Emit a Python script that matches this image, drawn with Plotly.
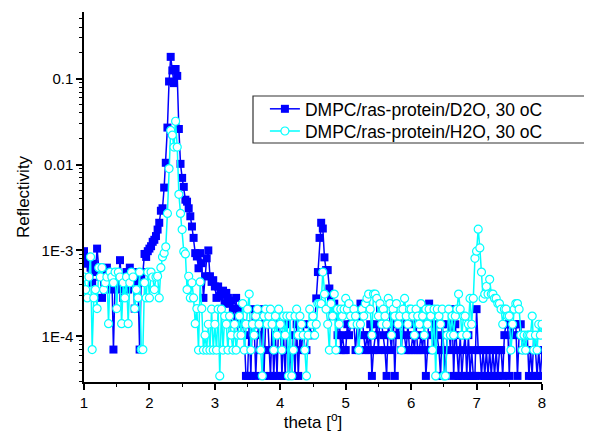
import plotly.graph_objects as go

# ---- data ----
theta = [
    1.0, 1.025, 1.05, 1.075, 1.1, 1.125, 1.15, 1.175, 1.2, 1.225, 1.25, 1.275, 1.3, 1.325, 1.35, 1.375, 1.4, 1.425, 1.45, 1.475,
    1.5, 1.525, 1.55, 1.575, 1.6, 1.625, 1.65, 1.675, 1.7, 1.725, 1.75, 1.775, 1.8, 1.825, 1.85, 1.875, 1.9, 1.925, 1.95, 1.975,
    2.0, 2.025, 2.05, 2.075, 2.1, 2.125, 2.15, 2.175, 2.2, 2.225, 2.25, 2.275, 2.3, 2.325, 2.35, 2.375, 2.4, 2.425, 2.45, 2.475,
    2.5, 2.525, 2.55, 2.575, 2.6, 2.625, 2.65, 2.675, 2.7, 2.725, 2.75, 2.775, 2.8, 2.825, 2.85, 2.875, 2.9, 2.925, 2.95, 2.975,
    3.0, 3.025, 3.05, 3.075, 3.1, 3.125, 3.15, 3.175, 3.2, 3.225, 3.25, 3.275, 3.3, 3.325, 3.35, 3.375, 3.4, 3.425, 3.45, 3.475,
    3.5, 3.525, 3.55, 3.575, 3.6, 3.625, 3.65, 3.675, 3.7, 3.725, 3.75, 3.775, 3.8, 3.825, 3.85, 3.875, 3.9, 3.925, 3.95, 3.975,
    4.0, 4.025, 4.05, 4.075, 4.1, 4.125, 4.15, 4.175, 4.2, 4.225, 4.25, 4.275, 4.3, 4.325, 4.35, 4.375, 4.4, 4.425, 4.45, 4.475,
    4.5, 4.525, 4.55, 4.575, 4.6, 4.625, 4.65, 4.675, 4.7, 4.725, 4.75, 4.775, 4.8, 4.825, 4.85, 4.875, 4.9, 4.925, 4.95, 4.975,
    5.0, 5.025, 5.05, 5.075, 5.1, 5.125, 5.15, 5.175, 5.2, 5.225, 5.25, 5.275, 5.3, 5.325, 5.35, 5.375, 5.4, 5.425, 5.45, 5.475,
    5.5, 5.525, 5.55, 5.575, 5.6, 5.625, 5.65, 5.675, 5.7, 5.725, 5.75, 5.775, 5.8, 5.825, 5.85, 5.875, 5.9, 5.925, 5.95, 5.975,
    6.0, 6.025, 6.05, 6.075, 6.1, 6.125, 6.15, 6.175, 6.2, 6.225, 6.25, 6.275, 6.3, 6.325, 6.35, 6.375, 6.4, 6.425, 6.45, 6.475,
    6.5, 6.525, 6.55, 6.575, 6.6, 6.625, 6.65, 6.675, 6.7, 6.725, 6.75, 6.775, 6.8, 6.825, 6.85, 6.875, 6.9, 6.925, 6.95, 6.975,
    7.0, 7.025, 7.05, 7.075, 7.1, 7.125, 7.15, 7.175, 7.2, 7.225, 7.25, 7.275, 7.3, 7.325, 7.35, 7.375, 7.4, 7.425, 7.45, 7.475,
    7.5, 7.525, 7.55, 7.575, 7.6, 7.625, 7.65, 7.675, 7.7, 7.725, 7.75, 7.775, 7.8, 7.825, 7.85, 7.875, 7.9, 7.925, 7.95, 7.975,
    8.0,
]

refl_d2o = [
    9.8e-4, 7e-4, 8.4e-4, 4.9e-4, 6.3e-4, 4.2e-4, 7e-4, 5.6e-4, 1.05e-3, 6.3e-4, 4.9e-4, 2.8e-4, 5.6e-4, 4.2e-4, 6.3e-4, 4.9e-4, 3.5e-4, 5.6e-4, 7e-5, 4.2e-4,
    4.9e-4, 3.5e-4, 7.7e-4, 4.2e-4, 2.8e-4, 4.9e-4, 5.6e-4, 3.5e-4, 6.3e-4, 4.2e-4, 4.9e-4, 2.1e-4, 5.6e-4, 4.2e-4, 7e-5, 4.9e-4, 5.6e-4, 9.1e-4, 8.4e-4, 9.8e-4,
    1.05e-3, 1.12e-3, 1.26e-3, 1.33e-3, 1.47e-3, 1.75e-3, 2.1e-3, 2.9e-3, 3.1e-3, 5.4e-3, 0.0105, 0.027, 0.093, 0.18, 0.125, 0.089, 0.13, 0.108, 0.026, 0.0102,
    7e-3, 5.5e-3, 3.9e-3, 3.7e-3, 3.1e-3, 2.5e-3, 1.9e-3, 1.4e-3, 9.3e-4, 8.5e-4, 6.2e-4, 9.3e-4, 7.1e-4, 2.8e-4, 5e-4, 8.1e-4, 1.0e-3, 5e-4, 4.3e-4, 4.5e-4,
    3.8e-4, 2.8e-4, 3.8e-4, 2.9e-4, 3.1e-4, 3.4e-4, 2.4e-4, 3.2e-4, 2.8e-4, 2.4e-4, 2.6e-4, 2.1e-4, 1.4e-4, 2.8e-4, 1.03e-4, 2.1e-4, 1.4e-4, 1.4e-4, 1.03e-4, 3.45e-5,
    3.45e-5, 1.38e-4, 3.45e-5, 2.07e-4, 1.38e-4, 3.45e-5, 1.03e-4, 1.38e-4, 6.9e-5, 2.07e-4, 3.45e-5, 1.38e-4, 2.07e-4, 6.9e-5, 3.45e-5, 1.38e-4, 3.45e-5, 1.03e-4, 3.45e-5, 1.38e-4,
    1.38e-4, 3.45e-5, 1.03e-4, 3.45e-5, 1.38e-4, 3.45e-5, 6.9e-5, 3.45e-5, 1.03e-4, 3.45e-5, 1.38e-4, 3.45e-5, 1.03e-4, 6.9e-5, 1.38e-4, 6.9e-5, 6.9e-5, 1.03e-4, 1.38e-4, 1.03e-4,
    1.03e-4, 1.38e-4, 2.76e-4, 5.6e-4, 1.4e-3, 2.1e-3, 1.8e-3, 8.3e-4, 5.9e-4, 5.9e-4, 3.6e-4, 2.76e-4, 1.72e-4, 2.4e-4, 1.72e-4, 1.03e-4, 1.72e-4, 6.9e-5, 1.03e-4, 6.9e-5,
    6.9e-5, 1.38e-4, 1.03e-4, 1.38e-4, 1.72e-4, 1.38e-4, 6.9e-5, 1.38e-4, 6.9e-5, 2.4e-4, 1.72e-4, 1.03e-4, 6.9e-5, 1.03e-4, 6.9e-5, 1.38e-4, 3.45e-5, 6.9e-5, 1.03e-4, 1.38e-4,
    6.9e-5, 2.07e-4, 1.38e-4, 1.03e-4, 6.9e-5, 3.45e-5, 1.38e-4, 1.03e-4, 6.9e-5, 1.72e-4, 3.45e-5, 1.38e-4, 1.03e-4, 1.72e-4, 6.9e-5, 1.38e-4, 1.03e-4, 6.9e-5, 1.38e-4, 6.9e-5,
    6.9e-5, 1.03e-4, 6.9e-5, 1.38e-4, 6.9e-5, 6.9e-5, 1.03e-4, 6.9e-5, 1.38e-4, 3.45e-5, 6.9e-5, 2.4e-4, 1.72e-4, 1.03e-4, 6.9e-5, 1.38e-4, 1.03e-4, 6.9e-5, 3.45e-5, 1.38e-4,
    6.9e-5, 3.45e-5, 1.03e-4, 1.38e-4, 6.9e-5, 2.07e-4, 3.45e-5, 1.38e-4, 6.9e-5, 3.45e-5, 1.03e-4, 3.45e-5, 6.9e-5, 1.03e-4, 3.45e-5, 1.03e-4, 3.45e-5, 6.9e-5, 3.45e-5, 3.45e-5,
    2.07e-4, 6.9e-5, 6.9e-5, 3.45e-5, 6.9e-5, 3.45e-5, 6.9e-5, 3.45e-5, 6.9e-5, 3.45e-5, 6.9e-5, 3.45e-5, 6.9e-5, 3.45e-5, 6.9e-5, 6.9e-5, 3.45e-5, 1.03e-4, 1.38e-4, 1.38e-4,
    3.45e-5, 1.38e-4, 1.03e-4, 1.38e-4, 1.38e-4, 3.45e-5, 1.03e-4, 1.38e-4, 6.9e-5, 1.03e-4, 6.9e-5, 1.03e-4, 3.45e-5, 6.9e-5, 3.45e-5, 1.03e-4, 6.9e-5, 3.45e-5, 6.9e-5, 3.45e-5,
    6.9e-5,
]

refl_h2o = [
    4.9e-4, 3.5e-4, 2.8e-4, 4.9e-4, 8.4e-4, 7e-5, 2.8e-4, 3.5e-4, 2.1e-4, 6.3e-4, 4.9e-4, 6.3e-4, 3.5e-4, 4.2e-4, 4.9e-4, 1.4e-4, 5.6e-4, 4.9e-4, 4.2e-4, 5.6e-4,
    2.1e-4, 5.6e-4, 4.9e-4, 1.4e-4, 4.2e-4, 2.8e-4, 4.9e-4, 1.4e-4, 4.2e-4, 5.6e-4, 4.9e-4, 2.1e-4, 3.5e-4, 2.8e-4, 5.6e-4, 7e-5, 7e-5, 4.2e-4, 2.8e-4, 5.6e-4,
    2.8e-4, 5.6e-4, 4.9e-4, 3.5e-4, 4.9e-4, 5e-4, 2.8e-4, 6.3e-4, 8.4e-4, 9.3e-4, 1.1e-3, 2.7e-3, 9e-3, 0.025, 0.022, 0.016, 0.032, 0.016, 4.5e-3, 2.7e-3,
    1.75e-3, 9.7e-4, 9.1e-4, 3.5e-4, 5e-4, 2.8e-4, 4.2e-4, 2.8e-4, 1.4e-4, 2.1e-4, 6.9e-5, 4.3e-4, 2.1e-4, 6.9e-5, 1.03e-4, 6.9e-5, 1.38e-4, 6.9e-5, 2.07e-4, 6.9e-5,
    1.38e-4, 6.9e-5, 2.07e-4, 3.45e-5, 2.07e-4, 6.9e-5, 1.72e-4, 1.38e-4, 6.9e-5, 1.72e-4, 1.03e-4, 6.9e-5, 1.38e-4, 6.9e-5, 1.03e-4, 1.72e-4, 1.03e-4, 2.4e-4, 6.9e-5, 1.38e-4,
    2.07e-4, 3.1e-4, 6.9e-5, 1.38e-4, 1.03e-4, 1.72e-4, 2.07e-4, 1.38e-4, 6.9e-5, 3.45e-5, 1.72e-4, 2.07e-4, 1.38e-4, 1.72e-4, 2.07e-4, 1.38e-4, 6.9e-5, 1.72e-4, 1.03e-4, 2.07e-4,
    1.38e-4, 6.9e-5, 1.72e-4, 1.03e-4, 1.72e-4, 3.45e-5, 1.72e-4, 3.45e-5, 6.9e-5, 1.72e-4, 2.07e-4, 1.03e-4, 1.72e-4, 1.38e-4, 1.03e-4, 6.9e-5, 3.45e-5, 1.03e-4, 2.07e-4, 1.38e-4,
    1.72e-4, 1.03e-4, 1.38e-4, 2.4e-4, 2.4e-4, 2.4e-4, 5.6e-4, 3.1e-4, 2.07e-4, 1.38e-4, 6.9e-5, 2.4e-4, 1.72e-4, 3.1e-4, 6.9e-5, 2.07e-4, 1.38e-4, 2.07e-4, 1.72e-4, 2.07e-4,
    2.76e-4, 2.07e-4, 2.4e-4, 1.72e-4, 1.38e-4, 2.07e-4, 1.72e-4, 1.38e-4, 6.9e-5, 1.38e-4, 2.07e-4, 1.72e-4, 2.4e-4, 2.76e-4, 3.1e-4, 2.07e-4, 1.03e-4, 3.1e-4, 3.1e-4, 2.76e-4,
    1.72e-4, 2.4e-4, 1.38e-4, 2.07e-4, 1.72e-4, 1.38e-4, 2.76e-4, 2.4e-4, 1.03e-4, 2.07e-4, 1.72e-4, 2.4e-4, 1.38e-4, 1.72e-4, 6.9e-5, 2.07e-4, 2.76e-4, 1.72e-4, 1.38e-4, 2.07e-4,
    2.07e-4, 1.72e-4, 1.03e-4, 2.07e-4, 1.72e-4, 1.38e-4, 2.4e-4, 1.72e-4, 1.03e-4, 2.07e-4, 1.38e-4, 2.07e-4, 1.72e-4, 6.9e-5, 2.07e-4, 3.45e-5, 2.07e-4, 1.72e-4, 1.38e-4, 2.07e-4,
    3.45e-5, 3.45e-5, 1.03e-4, 2.07e-4, 1.03e-4, 1.72e-4, 1.03e-4, 1.72e-4, 2.07e-4, 3.1e-4, 2.07e-4, 1.03e-4, 1.72e-4, 1.72e-4, 1.03e-4, 1.38e-4, 2.76e-4, 1.38e-4, 2.76e-4, 8.1e-4,
    9.8e-4, 1.77e-3, 1.07e-3, 5.6e-4, 2.76e-4, 3.1e-4, 3.8e-4, 3.1e-4, 4.6e-4, 3.1e-4, 3.1e-4, 2.76e-4, 2.76e-4, 2.4e-4, 2.4e-4, 2.07e-4, 1.38e-4, 2.07e-4, 2.07e-4, 1.72e-4,
    1.72e-4, 6.9e-5, 1.38e-4, 2.07e-4, 2.4e-4, 2.4e-4, 2.07e-4, 1.03e-4, 6.9e-5, 1.03e-4, 6.9e-5, 1.03e-4, 1.03e-4, 1.03e-4, 1.72e-4, 6.9e-5, 1.03e-4, 6.9e-5, 1.38e-4, 1.03e-4,
    1.38e-4,
]

series_names = ["DMPC/ras-protein/D2O, 30 oC", "DMPC/ras-protein/H2O, 30 oC"]
x_tick_vals = [1, 2, 3, 4, 5, 6, 7, 8]
x_minor_vals = [1.5, 2.5, 3.5, 4.5, 5.5, 6.5, 7.5]
y_tick_vals = [1e-4, 1e-3, 0.01, 0.1]
y_tick_text = ["1E-4", "1E-3", "0.01", "0.1"]
y_minor_vals = [3e-5, 4e-5, 5e-5, 6e-5, 7e-5, 8e-5, 9e-5,
                2e-4, 3e-4, 4e-4, 5e-4, 6e-4, 7e-4, 8e-4, 9e-4,
                2e-3, 3e-3, 4e-3, 5e-3, 6e-3, 7e-3, 8e-3, 9e-3,
                0.02, 0.03, 0.04, 0.05, 0.06, 0.07, 0.08, 0.09,
                0.2, 0.3, 0.4, 0.5]

FONT = "Arial, Liberation Sans, sans-serif"

fig = go.Figure()
fig.add_trace(go.Scatter(
    x=theta, y=refl_d2o, name=series_names[0], mode="lines+markers", legend="legend",
    line=dict(color="#0000FF", width=1.5),
    marker=dict(symbol="square", size=8, color="#0000FF", line=dict(width=0)),
))
fig.add_trace(go.Scatter(
    x=theta, y=refl_h2o, name=series_names[1], mode="lines+markers", legend="legend2",
    line=dict(color="#00FFFF", width=1.5),
    marker=dict(symbol="circle", size=8, color="#FFFFFF", line=dict(color="#00FFFF", width=1.2)),
))

axis_common = dict(
    showline=True, linecolor="black", linewidth=1.5, mirror=False,
    showgrid=False, zeroline=False, automargin=False,
    ticks="outside", ticklen=6, tickwidth=1.5, tickcolor="black",
    tickfont=dict(family=FONT, size=15, color="black"),
)

fig.update_xaxes(
    range=[1, 8], tickmode="array", tickvals=x_tick_vals,
    minor=dict(tickmode="array", tickvals=x_minor_vals, ticks="outside", ticklen=3, tickwidth=1.2, tickcolor="black"),
    title=dict(text="theta [<sup>o</sup>]", font=dict(family=FONT, size=17, color="black"), standoff=6),
    **axis_common,
)
fig.update_yaxes(
    type="log", range=[-4.533, -0.222], tickmode="array", tickvals=y_tick_vals, ticktext=y_tick_text,
    minor=dict(tickmode="array", tickvals=y_minor_vals, ticks="outside", ticklen=3, tickwidth=1.2, tickcolor="black"),
    title=dict(text="Reflectivity", font=dict(family=FONT, size=17, color="black"), standoff=8),
    **axis_common,
)

fig.add_shape(type="rect", xref="paper", yref="paper",
              x0=0.369, x1=1.105, y0=0.646, y1=0.773,
              line=dict(color="#333333", width=1.2), fillcolor="rgba(0,0,0,0)")

legend_common = dict(xanchor="left", yanchor="middle", bgcolor="rgba(0,0,0,0)", borderwidth=0,
                     font=dict(family=FONT, size=17.5, color="black"))

# The page body has an 8px margin, so the figure is 8px smaller and the
# margins are reduced by 8px to land the plot area where the reference has it.
fig.update_layout(
    width=584, height=424,
    margin=dict(l=76, r=50, t=4, b=50, autoexpand=False),
    paper_bgcolor="white", plot_bgcolor="white",
    font=dict(family=FONT, size=15, color="black"),
    showlegend=True,
    legend=dict(x=0.395, y=0.738, **legend_common),
    legend2=dict(x=0.395, y=0.678, **legend_common),
)

fig.write_html("out.html")
